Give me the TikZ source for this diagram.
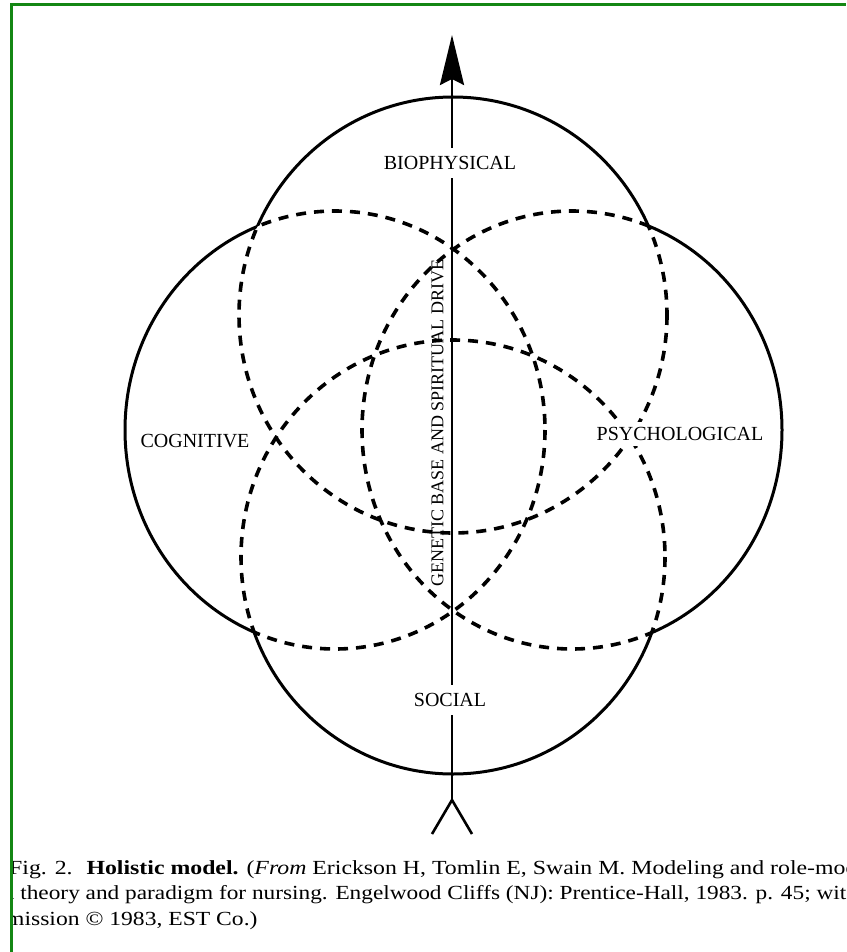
\documentclass[tikz,border=0pt]{standalone}
\usepackage{fontspec}
\usepackage{graphicx}
\setmainfont{Liberation Serif}
\usetikzlibrary{arrows.meta}
\definecolor{framegreen}{RGB}{20,135,20}
\newcommand{\capstretch}[2]{\scalebox{#1}[1]{#2}}
\begin{document}
\begin{tikzpicture}[x=1pt,y=-1pt,
  solidline/.style={line width=3pt},
  dashline/.style={line width=3.6pt, dash pattern=on 10pt off 8pt},
  axisline/.style={line width=2.6pt},
  lab/.style={font=\fontsize{20}{24}\selectfont, inner sep=1pt},
  gaplab/.style={lab, fill=white, inner ysep=8pt, inner xsep=2pt},
  capline/.style={font=\fontsize{20}{24}\selectfont, anchor=base west, inner sep=0pt}]
\useasboundingbox (0,0) rectangle (846,952);
\fill[white] (0,0) rectangle (846,952);

% ---------- dashed inner arcs ----------
\begin{scope}
  \clip (453,557) ellipse [x radius=212,y radius=217]
        (335,430) ellipse [x radius=210,y radius=219]
        (572,430) ellipse [x radius=210,y radius=219];
  \draw[dashline] (453,315) ellipse [x radius=214,y radius=218];
\end{scope}
\begin{scope}
  \clip (453,315) ellipse [x radius=214,y radius=218]
        (335,430) ellipse [x radius=210,y radius=219]
        (572,430) ellipse [x radius=210,y radius=219];
  \draw[dashline] (453,557) ellipse [x radius=212,y radius=217];
\end{scope}
\begin{scope}
  \clip (453,315) ellipse [x radius=214,y radius=218]
        (453,557) ellipse [x radius=212,y radius=217]
        (572,430) ellipse [x radius=210,y radius=219];
  \draw[dashline] (335,430) ellipse [x radius=210,y radius=219];
\end{scope}
\begin{scope}
  \clip (453,315) ellipse [x radius=214,y radius=218]
        (453,557) ellipse [x radius=212,y radius=217]
        (335,430) ellipse [x radius=210,y radius=219];
  \draw[dashline] (572,430) ellipse [x radius=210,y radius=219];
\end{scope}

% ---------- solid outer boundary ----------
\begin{scope}[even odd rule]
  \clip (-20,-20) rectangle (900,1000) (453,557) ellipse [x radius=212,y radius=217];
  \clip (-20,-20) rectangle (900,1000) (335,430) ellipse [x radius=210,y radius=219];
  \clip (-20,-20) rectangle (900,1000) (572,430) ellipse [x radius=210,y radius=219];
  \draw[solidline] (453,315) ellipse [x radius=214,y radius=218];
\end{scope}
\begin{scope}[even odd rule]
  \clip (-20,-20) rectangle (900,1000) (453,315) ellipse [x radius=214,y radius=218];
  \clip (-20,-20) rectangle (900,1000) (335,430) ellipse [x radius=210,y radius=219];
  \clip (-20,-20) rectangle (900,1000) (572,430) ellipse [x radius=210,y radius=219];
  \draw[solidline] (453,557) ellipse [x radius=212,y radius=217];
\end{scope}
\begin{scope}[even odd rule]
  \clip (-20,-20) rectangle (900,1000) (453,315) ellipse [x radius=214,y radius=218];
  \clip (-20,-20) rectangle (900,1000) (453,557) ellipse [x radius=212,y radius=217];
  \clip (-20,-20) rectangle (900,1000) (572,430) ellipse [x radius=210,y radius=219];
  \draw[solidline] (335,430) ellipse [x radius=210,y radius=219];
\end{scope}
\begin{scope}[even odd rule]
  \clip (-20,-20) rectangle (900,1000) (453,315) ellipse [x radius=214,y radius=218];
  \clip (-20,-20) rectangle (900,1000) (453,557) ellipse [x radius=212,y radius=217];
  \clip (-20,-20) rectangle (900,1000) (335,430) ellipse [x radius=210,y radius=219];
  \draw[solidline] (572,430) ellipse [x radius=210,y radius=219];
\end{scope}

% ---------- axis ----------
\coordinate (forkpt) at (452,800);
\coordinate (tip) at (452,35);
\coordinate (legl) at (432,834);
\coordinate (legr) at (472,834);
\draw[axisline, -{Stealth[length=50pt,width=24pt,inset=6pt]}] (forkpt) -- (tip);
\draw[axisline] (legl) -- (forkpt) -- (legr);

% ---------- labels ----------
\node[gaplab] (bio) at (450,163) {BIOPHYSICAL};
\node[lab] (cog) at (195,441) {COGNITIVE};
\node[lab, fill=white, inner ysep=5pt, inner xsep=3pt] (psy) at (680,434) {PSYCHOLOGICAL};
\node[gaplab] (soc) at (450,700) {SOCIAL};
\node[font=\fontsize{18}{20}\selectfont, rotate=90, inner sep=0pt] (gen) at (437.5,423) {GENETIC BASE AND SPIRITUAL DRIVE};

% ---------- caption ----------
\begin{scope}
  \clip (12.5,840) rectangle (846,952);
  \node[capline] (cap1) at (9,874) {\capstretch{1.19}{Fig. 2. \ \textbf{Holistic model.} (\textit{From} Erickson H, Tomlin E, Swain M. Modeling and role-mod}};
  \node[capline] (cap2) at (4,899.5) {\capstretch{1.165}{a theory and paradigm for nursing. Engelwood Cliffs (NJ): Prentice-Hall, 1983. p. 45; wit}};
  \node[capline] (cap3) at (6,925) {\capstretch{1.18}{mission \textcopyright{} 1983, EST Co.)}};
\end{scope}

% ---------- frame ----------
\draw[framegreen, line width=2.5pt] (11.5,952) -- (11.5,4.5) -- (846,4.5);
\end{tikzpicture}
\end{document}
